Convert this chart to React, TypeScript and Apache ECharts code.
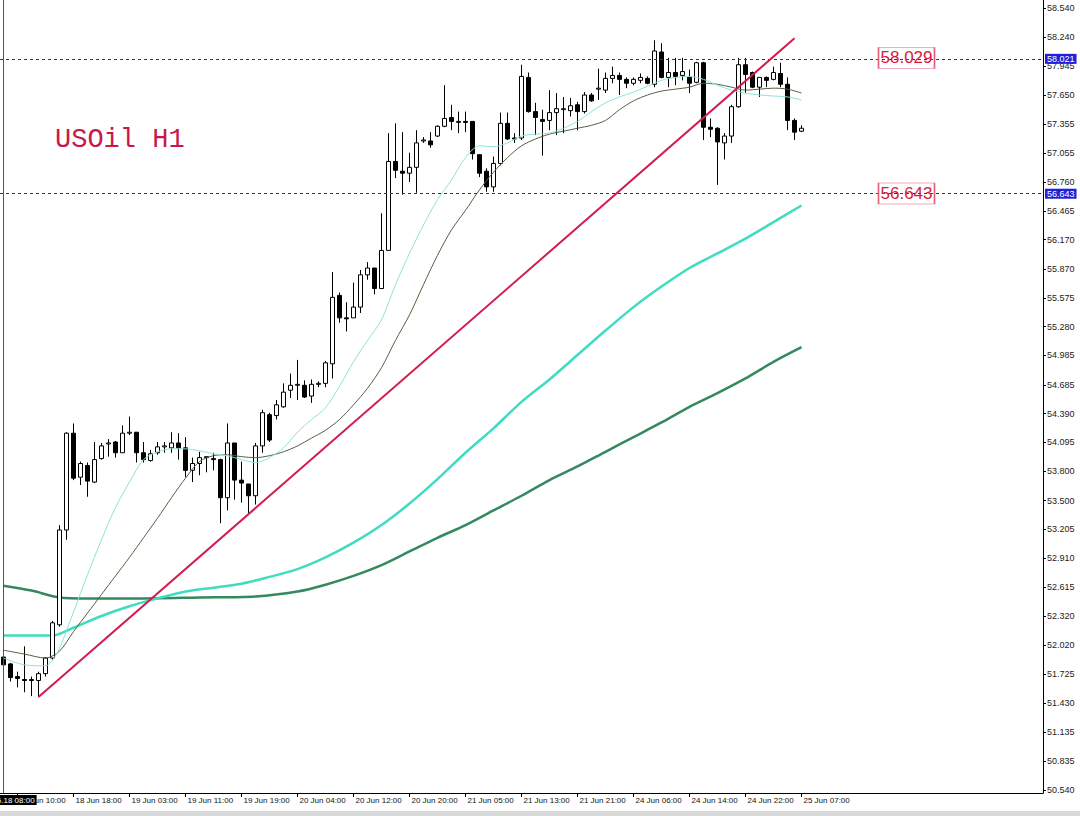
import React, { useEffect, useRef } from "react";
import * as echarts from "echarts";

// Trading sessions (day, first hour, last hour) of the H1 bars shown
const SESSIONS: [string, number, number][] = [
  ["18 Jun", 8, 23],
  ["19 Jun", 1, 23],
  ["20 Jun", 1, 23],
  ["21 Jun", 1, 23],
  ["24 Jun", 1, 23],
  ["25 Jun", 1, 7],
];
const EMPTY_SLOTS = 34; // chart shift on the right
const CURSOR_LABEL = "2019.06.18 08:00";

// [open, close, low, high]
const OHLC: number[][] = [
  [51.90, 51.82, 51.79, 51.92], [51.83, 51.69, 51.65, 51.84], [51.70, 51.68, 51.59, 51.75], [51.67, 51.66, 51.54, 52.01],
  [51.66, 51.67, 51.50, 51.70], [51.66, 51.73, 51.49, 51.75], [51.73, 51.89, 51.70, 51.90], [51.89, 52.25, 51.87, 52.27],
  [52.23, 53.20, 52.21, 53.25], [53.20, 54.19, 53.10, 54.20], [54.19, 53.73, 53.71, 54.29], [53.74, 53.88, 53.66, 53.90],
  [53.86, 53.70, 53.54, 53.89], [53.69, 53.92, 53.68, 54.10], [53.93, 54.06, 53.92, 54.09], [54.08, 54.09, 53.95, 54.13],
  [54.10, 53.99, 53.94, 54.11], [53.99, 54.19, 53.99, 54.27], [54.19, 54.20, 54.17, 54.36], [54.20, 53.99, 53.89, 54.20],
  [53.99, 53.92, 53.89, 54.10], [53.91, 53.98, 53.90, 54.02], [53.99, 54.05, 53.97, 54.10], [54.05, 54.06, 53.99, 54.10],
  [54.04, 54.09, 53.99, 54.20], [54.09, 54.04, 53.92, 54.19], [54.04, 53.81, 53.74, 54.15], [53.81, 53.88, 53.69, 53.94],
  [53.88, 53.94, 53.76, 54.00], [53.94, 53.95, 53.79, 53.95], [53.93, 53.92, 53.81, 53.99], [53.92, 53.53, 53.27, 53.93],
  [53.53, 54.09, 53.40, 54.29], [54.09, 53.71, 53.51, 54.09], [53.71, 53.68, 53.48, 53.90], [53.67, 53.55, 53.37, 53.67],
  [53.55, 54.06, 53.46, 54.09], [54.06, 54.40, 53.99, 54.43], [54.38, 54.12, 54.10, 54.40], [54.37, 54.48, 54.33, 54.53],
  [54.46, 54.61, 54.45, 54.70], [54.63, 54.68, 54.55, 54.80], [54.68, 54.69, 54.53, 54.94], [54.68, 54.56, 54.55, 54.73],
  [54.57, 54.69, 54.50, 54.74], [54.69, 54.70, 54.66, 54.72], [54.70, 54.91, 54.66, 54.93], [54.90, 55.58, 54.75, 55.84],
  [55.60, 55.37, 55.32, 55.63], [55.37, 55.36, 55.23, 55.53], [55.37, 55.48, 55.37, 55.73], [55.48, 55.81, 55.42, 55.86],
  [55.81, 55.88, 55.76, 55.94], [55.88, 55.67, 55.61, 55.88], [55.67, 56.06, 55.67, 56.44], [56.06, 56.97, 56.06, 57.26],
  [56.97, 56.88, 56.80, 57.36], [56.87, 56.85, 56.63, 57.27], [56.85, 56.91, 56.76, 57.06], [56.91, 57.16, 56.65, 57.29],
  [57.18, 57.19, 57.16, 57.22], [57.18, 57.14, 57.11, 57.27], [57.23, 57.33, 57.22, 57.34], [57.33, 57.41, 57.32, 57.75],
  [57.42, 57.38, 57.29, 57.55], [57.37, 57.38, 57.26, 57.48], [57.38, 57.37, 57.27, 57.48], [57.38, 57.05, 56.99, 57.38],
  [57.04, 56.85, 56.81, 57.04], [56.87, 56.71, 56.66, 56.90], [56.71, 56.95, 56.66, 57.02], [56.95, 57.36, 56.93, 57.47],
  [57.36, 57.20, 57.19, 57.47], [57.21, 57.20, 57.16, 57.26], [57.21, 57.84, 57.19, 57.96], [57.83, 57.48, 57.47, 57.88],
  [57.48, 57.42, 57.24, 57.57], [57.40, 57.38, 57.03, 57.50], [57.39, 57.47, 57.29, 57.70], [57.47, 57.51, 57.24, 57.67],
  [57.50, 57.51, 57.26, 57.63], [57.49, 57.54, 57.43, 57.62], [57.55, 57.48, 57.29, 57.58], [57.48, 57.65, 57.46, 57.68],
  [57.65, 57.59, 57.58, 57.67], [57.71, 57.72, 57.60, 57.92], [57.70, 57.82, 57.67, 57.88], [57.82, 57.85, 57.77, 57.94],
  [57.85, 57.81, 57.65, 57.88], [57.81, 57.77, 57.72, 57.83], [57.77, 57.81, 57.75, 57.83], [57.80, 57.83, 57.77, 57.87],
  [57.82, 57.77, 57.76, 57.84], [57.76, 58.10, 57.73, 58.21], [58.09, 57.83, 57.82, 58.18], [57.83, 57.88, 57.73, 58.03],
  [57.88, 57.84, 57.75, 58.03], [57.85, 57.89, 57.80, 58.03], [57.83, 57.77, 57.67, 57.91], [57.78, 57.98, 57.77, 57.99],
  [57.98, 57.32, 57.19, 57.99], [57.32, 57.30, 57.22, 57.41], [57.31, 57.17, 56.73, 57.32], [57.16, 57.23, 56.99, 57.26],
  [57.23, 57.53, 57.16, 57.55], [57.53, 57.96, 57.52, 58.03], [57.96, 57.86, 57.67, 58.03], [57.88, 57.73, 57.72, 57.89],
  [57.73, 57.83, 57.63, 57.83], [57.83, 57.80, 57.73, 57.84], [57.81, 57.88, 57.80, 57.94], [57.87, 57.76, 57.73, 57.98],
  [57.76, 57.39, 57.29, 57.83], [57.39, 57.27, 57.19, 57.41], [57.28, 57.31, 57.27, 57.34],
];

// Moving averages: [bar index, price]
const MA_FAST: number[][] = [
  [0, 51.89], [3, 51.82], [6, 51.81], [7, 51.87], [8, 51.99], [10, 52.36], [12, 52.74], [14, 53.10], [16, 53.43],
  [18, 53.69], [20, 53.92], [22, 54.00], [24, 54.03], [26, 54.03], [28, 54.01], [30, 53.98], [32, 53.96], [34, 53.92],
  [36, 53.89], [38, 53.94], [40, 54.04], [42, 54.20], [44, 54.33], [46, 54.45], [48, 54.67], [50, 54.92], [52, 55.14],
  [54, 55.35], [56, 55.71], [58, 56.03], [60, 56.32], [62, 56.58], [64, 56.78], [66, 57.01], [68, 57.13], [70, 57.12],
  [72, 57.16], [74, 57.23], [76, 57.25], [78, 57.26], [80, 57.31], [82, 57.38], [84, 57.48], [86, 57.57], [88, 57.63],
  [90, 57.68], [92, 57.74], [94, 57.80], [96, 57.83], [98, 57.84], [100, 57.81], [102, 57.75], [104, 57.70], [106, 57.67],
  [108, 57.65], [110, 57.64], [112, 57.63], [114, 57.60],
];
const MA_MID: number[][] = [
  [0, 51.97], [3, 51.93], [6, 51.89], [8, 51.96], [10, 52.16], [12, 52.35], [14, 52.54], [16, 52.73], [18, 52.92],
  [20, 53.12], [22, 53.32], [24, 53.53], [26, 53.73], [28, 53.90], [30, 53.96], [32, 53.97], [34, 53.95], [36, 53.94],
  [38, 53.96], [40, 54.00], [42, 54.06], [44, 54.14], [46, 54.22], [48, 54.33], [50, 54.48], [52, 54.65], [54, 54.86],
  [56, 55.14], [58, 55.40], [60, 55.71], [62, 56.01], [64, 56.27], [66, 56.47], [68, 56.68], [70, 56.86], [72, 57.01],
  [74, 57.13], [76, 57.20], [78, 57.25], [80, 57.28], [82, 57.31], [84, 57.34], [86, 57.39], [88, 57.50], [90, 57.59],
  [92, 57.65], [94, 57.69], [96, 57.71], [98, 57.73], [100, 57.77], [102, 57.76], [104, 57.73], [106, 57.70], [108, 57.71],
  [110, 57.72], [112, 57.71], [114, 57.67],
];
const MA_SLOW: number[][] = [
  [0, 52.12], [4, 52.12], [7, 52.12], [10, 52.20], [14, 52.32], [18, 52.42], [22, 52.50], [26, 52.57], [30, 52.61],
  [34, 52.65], [38, 52.72], [42, 52.80], [46, 52.92], [50, 53.07], [54, 53.25], [58, 53.47], [62, 53.72], [66, 53.99],
  [70, 54.24], [74, 54.51], [78, 54.74], [82, 54.99], [86, 55.24], [90, 55.48], [94, 55.69], [98, 55.88], [102, 56.03],
  [106, 56.18], [110, 56.35], [114, 56.52],
];
const MA_LONG: number[][] = [
  [0, 52.63], [4, 52.58], [8, 52.51], [12, 52.50], [20, 52.50], [28, 52.51], [36, 52.52], [42, 52.57], [46, 52.64],
  [50, 52.73], [54, 52.84], [58, 52.98], [62, 53.12], [66, 53.25], [70, 53.40], [74, 53.55], [78, 53.71], [82, 53.85],
  [86, 54.00], [90, 54.15], [94, 54.30], [98, 54.46], [102, 54.60], [106, 54.75], [110, 54.92], [114, 55.07],
];

const TREND_LINE: number[][] = [[5, 51.49], [113, 58.23]];
const LEVELS = [58.021, 56.643];
const LEVEL_NOTES = [58.029, 56.643];
const NOTE_SLOT = 129;
const LAST_PRICE = 57.31;

const Y_TICKS = [
  58.54, 58.24, 57.945, 57.65, 57.355, 57.055, 56.76, 56.465, 56.17, 55.87, 55.575, 55.28, 54.985, 54.685,
  54.39, 54.095, 53.8, 53.5, 53.205, 52.91, 52.615, 52.32, 52.02, 51.725, 51.43, 51.135, 50.835, 50.54,
];
const Y_MIN = 50.509;
const Y_MAX = 58.622;

const TIMES: string[] = [];
SESSIONS.forEach(([d, a, b]) => {
  for (let h = a; h <= b; h++) TIMES.push(`${d} ${String(h).padStart(2, "0")}:00`);
});
const CATEGORIES: string[] = [...TIMES];
for (let i = 0; i < EMPTY_SLOTS; i++) CATEGORIES.push(`slot${i}`);

const showTime = (i: number) => i % 8 === 2 && i < TIMES.length;

function lineSeries(data: number[][], color: string, width: number, z: number) {
  return {
    type: "line",
    data,
    symbol: "none",
    smooth: 0.3,
    silent: true,
    clip: false,
    z,
    lineStyle: { color, width },
    itemStyle: { color },
  };
}

export default function App() {
  const ref = useRef<HTMLDivElement>(null);
  useEffect(() => {
    if (!ref.current) return;
    const chart = echarts.init(ref.current, undefined, { renderer: "svg" });
    const boxLabel = (bg: string, text: string) => ({
      show: true,
      position: "end",
      distance: 2,
      formatter: text,
      backgroundColor: bg,
      color: "#ffffff",
      fontSize: 9,
      fontFamily: "Liberation Sans, Arial, sans-serif",
      padding: [1, 2, 0, 2],
    });
    const option: any = {
      animation: false,
      backgroundColor: "#ffffff",
      grid: { left: 0, top: 0, width: 1043, height: 793, containLabel: false, outerBoundsMode: "none" },
      xAxis: {
        type: "category",
        data: CATEGORIES,
        boundaryGap: true,
        axisLine: { show: true, lineStyle: { color: "#000000", width: 1 } },
        axisTick: { show: true, alignWithLabel: true, interval: showTime, length: 4, lineStyle: { color: "#000000" } },
        axisLabel: {
          interval: showTime,
          align: "left",
          margin: 3,
          padding: [0, 0, 0, 2],
          color: "#111111",
          fontSize: 8,
          fontFamily: "Liberation Sans, Arial, sans-serif",
        },
        splitLine: { show: false },
      },
      yAxis: {
        type: "value",
        position: "right",
        min: Y_MIN,
        max: Y_MAX,
        axisLine: { show: true, lineStyle: { color: "#000000", width: 1 } },
        axisTick: { show: true, length: 3, customValues: Y_TICKS, lineStyle: { color: "#000000" } },
        axisLabel: {
          customValues: Y_TICKS,
          formatter: (v: number) => v.toFixed(3),
          margin: 4,
          color: "#222222",
          fontSize: 9,
          fontFamily: "Liberation Sans, Arial, sans-serif",
        },
        splitLine: { show: false },
      },
      series: [
        lineSeries(MA_LONG, "#35895f", 2.5, 1),
        lineSeries(MA_SLOW, "#3fdcc0", 2.5, 1),
        {
          type: "candlestick",
          data: OHLC,
          barWidth: 5,
          clip: false,
          z: 2,
          itemStyle: {
            color: "#ffffff",
            color0: "#000000",
            borderColor: "#000000",
            borderColor0: "#000000",
            borderWidth: 1,
          },
          markLine: {
            silent: true,
            symbol: ["none", "none"],
            data: [
              {
                xAxis: 0,
                lineStyle: { color: "#555555", width: 1, type: "solid" },
                label: {
                  show: true,
                  position: "start",
                  distance: 2,
                  formatter: CURSOR_LABEL,
                  backgroundColor: "#000000",
                  color: "#ffffff",
                  fontSize: 8,
                  fontFamily: "Liberation Sans, Arial, sans-serif",
                  padding: [1, 2, 1, 2],
                },
              },
              ...LEVELS.map((v) => ({
                yAxis: v,
                lineStyle: { color: "#2a2a90", width: 1, type: [3, 3] },
                label: boxLabel("#2020d8", v.toFixed(3)),
              })),
              {
                yAxis: LAST_PRICE,
                lineStyle: { opacity: 0, width: 0 },
                label: boxLabel("#000000", LAST_PRICE.toFixed(3)),
              },
            ],
          },
          markPoint: {
            silent: true,
            symbol: "rect",
            symbolSize: [56, 21],
            itemStyle: { color: "rgba(255,255,255,0)", borderColor: "#e0607a", borderWidth: 1 },
            label: {
              show: true,
              position: "inside",
              color: "#d8183c",
              fontSize: 17,
              fontFamily: "Liberation Sans, Arial, sans-serif",
              formatter: (p: any) => p.name,
            },
            data: LEVEL_NOTES.map((v) => ({ name: v.toFixed(3), coord: [NOTE_SLOT, v] })),
          },
        },
        lineSeries(MA_MID, "#56603f", 1, 3),
        lineSeries(MA_FAST, "#8fe3d8", 1, 3),
        {
          type: "line",
          data: TREND_LINE,
          symbol: "none",
          silent: true,
          clip: false,
          z: 5,
          lineStyle: { color: "#d21c4c", width: 2 },
          itemStyle: { color: "#d21c4c" },
        },
      ],
      graphic: [
        {
          type: "text",
          x: 55,
          y: 126,
          z: 10,
          style: {
            text: "USOil H1",
            fill: "#c8184a",
            fontSize: 27,
            fontFamily: "Liberation Mono, DejaVu Sans Mono, monospace",
            textVerticalAlign: "top",
          },
        },
        {
          type: "rect",
          z: 10,
          shape: { x: 0, y: 811, width: 1080, height: 5 },
          style: { fill: "#d8d8d8" },
        },
      ],
    };
    chart.setOption(option);
    return () => chart.dispose();
  }, []);
  return (
    <div
      ref={ref}
      style={{ position: "absolute", left: 0, top: 0, width: 1080, height: 816, background: "#ffffff" }}
    />
  );
}
